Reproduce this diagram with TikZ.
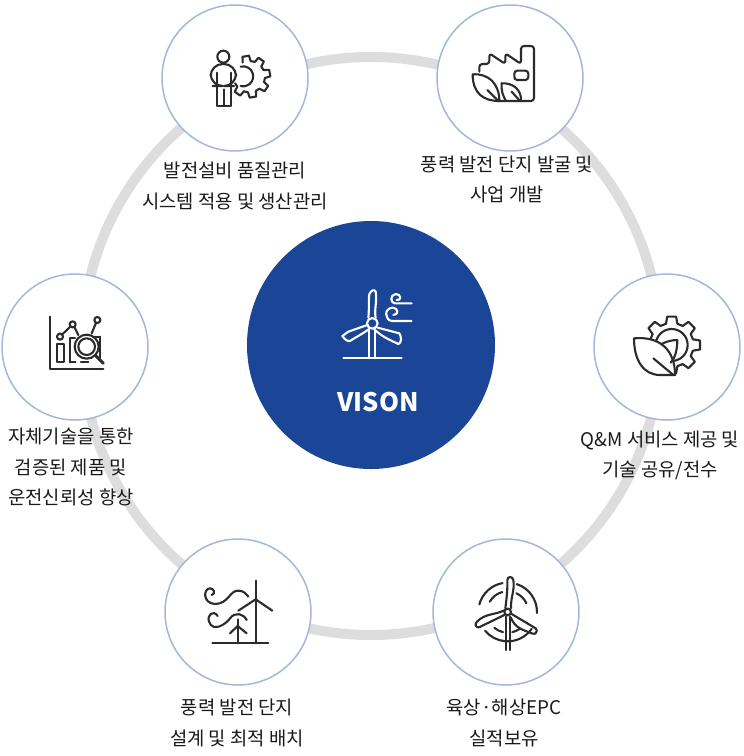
\documentclass[tikz,border=0pt]{standalone}
\usepackage{fontspec}
\setmainfont{Noto Sans CJK KR}
\definecolor{ringgray}{HTML}{DDDDDD}
\definecolor{circleblue}{HTML}{A3B8D9}
\definecolor{visionblue}{HTML}{1B4596}
\definecolor{icondark}{HTML}{2B2B2B}
\definecolor{labeldark}{HTML}{1A1A1A}
\newcommand{\gearteeth}[3]{%
  \foreach \a in {#3}{
    \draw[icon] (\a-15:#1) -- (\a-9:#2) -- (\a+9:#2) -- (\a+15:#1)
      arc[start angle=\a+15, end angle=\a+30, radius=#1];
  }}
\begin{document}
\begin{tikzpicture}[
    x=1pt, y=-1pt,
    icon/.style={draw=icondark, line width=2.1pt, line join=round, line cap=round},
    iconwhite/.style={draw=white, line width=2.1pt, line join=round, line cap=round},
    spot/.style={
      circle,
      minimum size=146pt,
      inner sep=0pt,
      draw=circleblue,
      line width=1.5pt,
      fill=white
    },
    caption/.style={
      align=center,
      inner sep=0pt,
      text=labeldark,
      font=\fontsize{18.8}{30.5}\selectfont
    }
  ]
  \useasboundingbox (0,0) rectangle (744,756);

  \node[circle, minimum size=578pt, inner sep=0pt, draw=ringgray, line width=10pt] (ring) at (371,346) {};

  \node[spot] (tl) at (235,78) {};
  \node[spot] (tr) at (510,78) {};
  \node[spot] (rt) at (667,347) {};
  \node[spot] (br) at (506,612) {};
  \node[spot] (bl) at (238,612) {};
  \node[spot] (lf) at (75,347) {};

  \node[circle, minimum size=248pt, inner sep=0pt, fill=visionblue] (hub) at (371,345) {};
  \node[text=white, inner sep=0pt, font=\fontsize{25.5}{30}\selectfont\bfseries] (vison) at (378,402) {VISON};

  \node[caption] (captl) at (235,186) {발전설비 품질관리\\시스템 적용 및 생산관리};
  \node[caption] (captr) at (507,179.5) {풍력 발전 단지 발굴 및\\사업 개발};
  \node[caption] (caprt) at (660,455.5) {Q\&M 서비스 제공 및\\기술 공유/전수};
  \node[caption] (capbr) at (504,723) {육상·해상EPC\\실적보유};
  \node[caption] (capbl) at (237,723) {풍력 발전 단지\\설계 및 최적 배치};
  \node[caption] (caplf) at (71,467) {자체기술을 통한\\검증된 제품 및\\운전신뢰성 향상};

  % person and gear
  \begin{scope}[shift={(190,30)}, scale=0.3333]
    \begin{scope}[shift={(178,140)}]
      \gearteeth{47}{63}{-100,-55,-10,35,80,125}
    \end{scope}
    \draw[icon] (152,110) arc[start angle=-105, end angle=105, radius=30];
    \draw[icon] (100,80) circle (18);
    \draw[icon] (82,165) -- (82,228) -- (122,228) -- (122,165);
    \draw[icon] (102,178) -- (102,228);
    \draw[icon, rounded corners=12] (68,168) -- (62,168) -- (62,102) -- (138,102) -- (138,168) -- (132,168);
    \draw[icon] (82,128) -- (82,165);
    \draw[icon] (122,128) -- (122,165);
  \end{scope}

  % factory and leaves
  \begin{scope}[shift={(460,30)}, scale=0.3333]
    \draw[icon, rounded corners=3] (58,125) -- (58,102) -- (88,102) -- (88,70) -- (136,102) -- (136,70) -- (183,102) -- (183,48) -- (222,48) -- (222,213) -- (110,213);
    \draw[icon, rounded corners=3] (163,122) rectangle (205,150);
    \draw[icon] (38,133) .. controls (85,130) and (118,160) .. (118,213) .. controls (70,213) and (38,190) .. (38,133) -- cycle;
    \draw[icon] (125,160) .. controls (160,158) and (185,180) .. (183,213);
    \draw[icon] (125,160) .. controls (122,180) and (130,200) .. (138,213);
    \draw[icon] (82,180) -- (115,213);
    \draw[icon] (155,185) -- (180,213);
  \end{scope}

  % gear and leaf
  \begin{scope}[shift={(620,300)}, scale=0.3333]
    \begin{scope}[shift={(155,135)}]
      \gearteeth{66}{86}{-180,-135,-90,-45,0,45,90,135}
    \end{scope}
    \draw[icon] (155,135) circle (48);
    \draw[icon, fill=white] (42,115) .. controls (120,108) and (165,150) .. (165,225) -- (120,225) .. controls (70,225) and (42,180) .. (42,115) -- cycle;
    \draw[icon] (172,120) .. controls (172,150) and (165,175) .. (152,188);
    \draw[icon] (172,120) .. controls (155,120) and (138,125) .. (125,132);
    \draw[icon] (100,175) -- (160,225);
  \end{scope}

  % turbine in rings
  \begin{scope}[shift={(465,565)}, scale=0.3333]
    \draw[icon] (128,141) ++(-165:88) arc[start angle=-165, end angle=-100, radius=88];
    \draw[icon] (128,141) ++(-72:88) arc[start angle=-72, end angle=2, radius=88];
    \draw[icon] (128,141) ++(35:88) arc[start angle=35, end angle=140, radius=88];
    \draw[icon] (128,141) ++(-150:62) arc[start angle=-150, end angle=-105, radius=62];
    \draw[icon] (128,141) ++(-65:62) arc[start angle=-65, end angle=-25, radius=62];
    \draw[icon] (128,141) ++(55:62) arc[start angle=55, end angle=77, radius=62];
    \draw[icon] (128,141) ++(103:62) arc[start angle=103, end angle=130, radius=62];
    \draw[icon] (122,155) -- (122,255);
    \draw[icon] (136,155) -- (136,255);
    \draw[icon] (128,141) circle (10);
    \draw[icon] (121,130) .. controls (125,100) and (128,70) .. (127,45) .. controls (127,33) and (143,33) .. (145,45) .. controls (150,75) and (137,95) .. (138,130);
    \draw[icon] (140,147) -- (212,190) .. controls (220,197) and (212,210) .. (203,206) .. controls (175,195) and (150,190) .. (137,157);
    \draw[icon] (118,150) -- (42,187) .. controls (32,188) and (28,178) .. (36,170) .. controls (60,145) and (90,150) .. (118,136);
  \end{scope}

  % turbine and wind
  \begin{scope}[shift={(195,570)}, scale=0.3333]
    \draw[icon] (52,220) -- (220,220);
    \draw[icon] (182,32) -- (182,220);
    \draw[icon] (130,122) -- (182,88) -- (232,122);
    \draw[icon] (128,148) -- (128,220);
    \draw[icon] (105,190) -- (128,168) -- (155,190);
    \draw[icon] (50,75) .. controls (62,72) and (58,55) .. (45,55) .. controls (25,55) and (22,100) .. (60,102) .. controls (100,102) and (105,60) .. (130,62) .. controls (145,62) and (152,70) .. (160,80);
    \draw[icon] (68,138) .. controls (55,118) and (35,135) .. (42,155) .. controls (55,190) and (95,160) .. (105,145) .. controls (120,125) and (145,130) .. (155,150);
  \end{scope}

  % chart and magnifier
  \begin{scope}[shift={(35,305)}, scale=0.3333]
    \draw[icon] (44,35) -- (44,192) -- (205,192);
    \draw[icon] (65,118) rectangle (88,172);
    \draw[icon] (105,172) -- (105,100) -- (120,100);
    \draw[icon] (105,172) -- (122,172);
    \draw[icon] (138,172) -- (160,172);
    \draw[icon] (195,95) -- (195,158);
    \draw[icon] (178,95) -- (195,95);
    \draw[icon] (75,95) circle (9);
    \draw[icon] (113,58) circle (9);
    \draw[icon] (187,45) circle (9);
    \draw[icon] (82,88) -- (106,65);
    \draw[icon] (118,66) -- (130,90);
    \draw[icon] (183,54) -- (170,85);
    \draw[icon, fill=white] (155,125) circle (36);
    \draw[icon] (155,125) circle (25);
    \draw[icon, line width=3pt] (182,152) -- (205,175);
  \end{scope}

  % vision turbine
  \begin{scope}[shift={(330,275)}, scale=0.3333]
    \draw[iconwhite] (40,250) -- (215,250);
    \draw[iconwhite] (118,162) -- (118,250);
    \draw[iconwhite] (136,162) -- (136,250);
    \draw[iconwhite] (127,145) circle (16);
    \draw[iconwhite] (115,128) .. controls (118,105) and (115,75) .. (118,58) .. controls (122,45) and (135,42) .. (137,50) .. controls (142,80) and (132,105) .. (137,128);
    \draw[iconwhite] (143,158) -- (208,175) .. controls (215,185) and (215,205) .. (205,207) .. controls (180,195) and (155,185) .. (132,162);
    \draw[iconwhite] (112,150) -- (55,170) -- (37,183) .. controls (45,195) and (55,200) .. (60,198) .. controls (80,185) and (100,175) .. (118,162);
    \draw[iconwhite] (245,85) -- (195,85) .. controls (182,85) and (178,60) .. (197,57) .. controls (215,57) and (215,78) .. (200,75);
    \draw[iconwhite] (245,138) -- (185,138) .. controls (165,135) and (160,100) .. (188,98) .. controls (205,98) and (208,120) .. (190,120);
  \end{scope}
\end{tikzpicture}
\end{document}
